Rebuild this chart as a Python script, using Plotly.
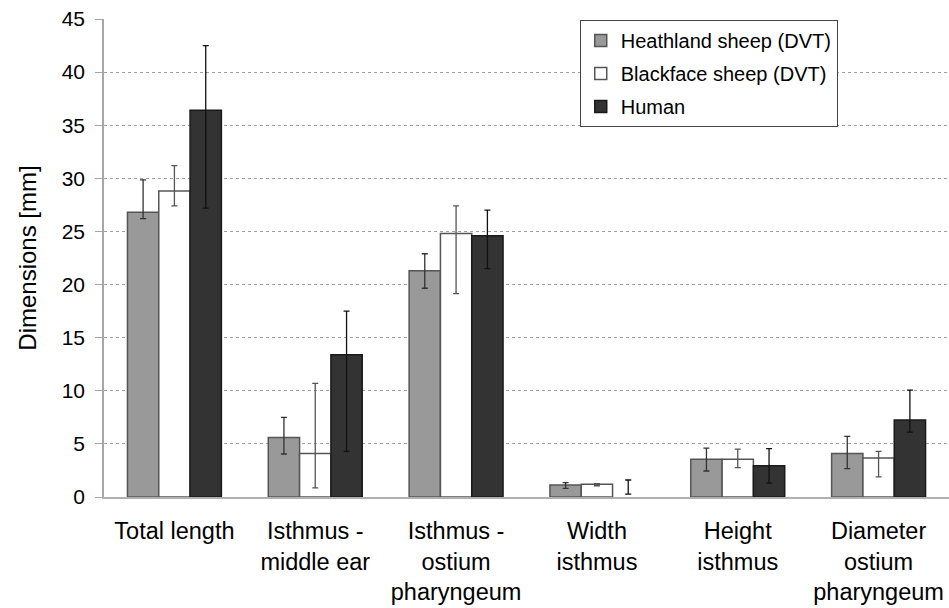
import plotly.graph_objects as go

categories = ["Total length", "Isthmus -<br>middle ear", "Isthmus -<br>ostium<br>pharyngeum",
              "Width<br>isthmus", "Height<br>isthmus", "Diameter<br>ostium<br>pharyngeum"]

heathland = [26.8, 5.6, 21.3, 1.13, 3.55, 4.1]
heathland_plus = [3.05, 1.9, 1.6, 0.22, 1.05, 1.6]
heathland_minus = [0.6, 1.55, 1.65, 0.31, 1.1, 1.43]

blackface = [28.8, 4.1, 24.8, 1.2, 3.55, 3.67]
blackface_plus = [2.4, 6.6, 2.6, 0.05, 0.95, 0.63]
blackface_minus = [1.4, 3.25, 5.65, 0.14, 0.79, 1.77]

human = [36.4, 13.4, 24.6, 0.0, 2.95, 7.25]
human_plus = [6.1, 4.1, 2.4, 1.6, 1.6, 2.82]
human_minus = [9.2, 9.1, 3.1, -0.28, 1.65, 1.15]

series = [
    ("Heathland sheep (DVT)", heathland, heathland_plus, heathland_minus, "#999999", "#555555", "#333333"),
    ("Blackface sheep (DVT)", blackface, blackface_plus, blackface_minus, "#ffffff", "#555555", "#555555"),
    ("Human", human, human_plus, human_minus, "#333333", "#1a1a1a", "#111111"),
]

fig = go.Figure()
for i, (name, vals, plus, minus, fill, line, ecol) in enumerate(series):
    lw = [1.5 if v > 0 else 0 for v in vals]
    fig.add_trace(go.Bar(
        name=name, x=categories, y=vals,
        marker=dict(color=fill, line=dict(color=line, width=lw)),
        error_y=dict(type="data", symmetric=False, array=plus, arrayminus=minus,
                     color=ecol, thickness=1.3, width=3),
        legendgroup=str(i),
    ))

fig.update_layout(
    width=949, height=608,
    margin=dict(l=104, r=0, t=19, b=111),
    paper_bgcolor="white", plot_bgcolor="white",
    barmode="group", bargap=0.333, bargroupgap=0,
    font=dict(family="Liberation Sans, Arial, sans-serif", color="#000000"),
    showlegend=True,
    legend=dict(
        x=0.563, y=0.998, xanchor="left", yanchor="top",
        bgcolor="white", bordercolor="#444444", borderwidth=1,
        font=dict(size=20, color="#000000"),
        traceorder="grouped", tracegroupgap=4,
    ),
    yaxis=dict(
        range=[0, 45], dtick=5, tick0=0,
        showgrid=True, gridcolor="#a0a0a0", griddash="dot", gridwidth=1,
        showline=True, linecolor="#a6a6a6", linewidth=1.5,
        ticks="outside", ticklen=7, tickcolor="#a6a6a6", tickwidth=1,
        tickfont=dict(size=21), zeroline=False, ticklabelstandoff=6,
        ticklabeloverflow="allow",
        title=dict(text="Dimensions [mm]", font=dict(size=24), standoff=18),
    ),
    xaxis=dict(
        showline=True, linecolor="#b0b0b0", linewidth=2,
        ticks="outside", ticklen=12, tickcolor="rgba(0,0,0,0)",
        tickfont=dict(size=23.5), showgrid=False, ticklabeloverflow="allow",
    ),
)

fig.write_html(
    "out.html",
    config={"displayModeBar": False},
    post_script="document.body.style.margin='0';document.body.style.padding='0';"
                "document.body.style.overflow='hidden';",
)
